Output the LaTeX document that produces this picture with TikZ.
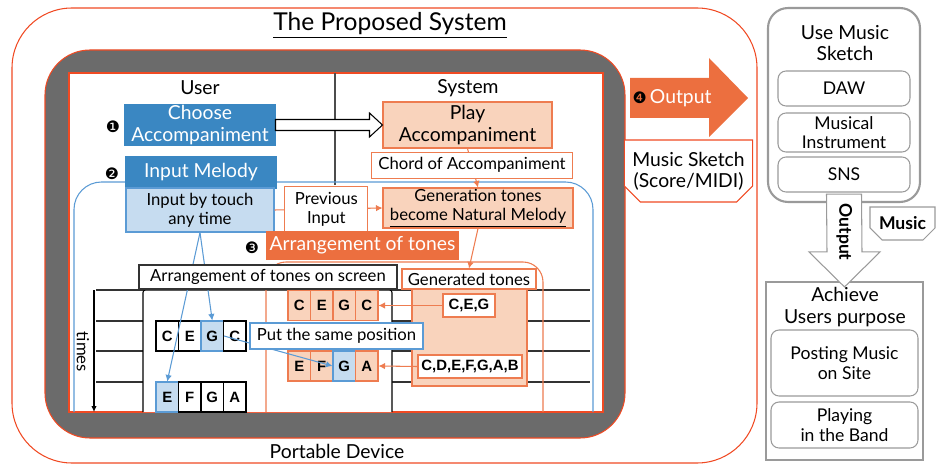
\documentclass[tikz,border=0pt]{standalone}
\usepackage{fontspec}
\setmainfont{Lato}
\newfontfamily\cellfont{Liberation Sans}
\newfontfamily\dingfont{DejaVu Sans}
\usetikzlibrary{arrows.meta,calc,shapes.misc}

\definecolor{devgray}{HTML}{6B6B6B}
\definecolor{redline}{HTML}{F04A23}
\definecolor{ublue}{HTML}{3A87C2}
\definecolor{lblue}{HTML}{C6DCF0}
\definecolor{lborder}{HTML}{5B9BD5}
\definecolor{ofill}{HTML}{F9D3BC}
\definecolor{oline}{HTML}{EE7C50}
\definecolor{oarr}{HTML}{EC6F3F}
\definecolor{gline}{HTML}{9A9A9A}

\tikzset{
    big/.style={font=\fontsize{11}{12}\selectfont},
    mid/.style={font=\fontsize{9.5}{11}\selectfont},
    ubox/.style={big, fill=ublue, draw=ublue, text=white, align=center, inner sep=0pt},
    lbox/.style={mid, fill=lblue, draw=lborder, align=center, inner sep=0pt},
    obox/.style={big, fill=ofill, draw=oline, align=center, inner sep=0pt},
    wbox/.style={mid, fill=white, draw=oline, align=center, inner sep=0pt},
    cell/.style={draw, minimum width=0.45cm, minimum height=0.6cm, inner sep=0pt,
        font=\cellfont\bfseries\fontsize{8.5}{9}\selectfont},
    hcell/.style={cell, fill=lblue, draw=lborder},
    ocell/.style={cell, fill=ofill, draw=oline},
    tagbox/.style={fill=white, draw=oline, inner sep=0pt, font=\cellfont\bfseries\fontsize{8.5}{9}\selectfont},
    gbox/.style={draw=gline, rounded corners=0.16cm, align=center, inner sep=0pt,
        font=\fontsize{10}{11}\selectfont},
    num/.style={font=\dingfont\fontsize{9}{9}\selectfont},
    oarrow/.style={draw=oline, -{Latex[length=1.3mm,width=1.3mm]}},
    barrow/.style={draw=lborder, -{Latex[length=1.3mm,width=1.3mm]}},
}

\begin{document}
\begin{tikzpicture}[x=0.02cm, y=-0.02cm, line width=0.6pt]
    \useasboundingbox (0,0) rectangle (937,466);

    % Proposed system frame
    \draw[redline, rounded corners=1.2cm] (12,8) rectangle (757,463);
    \node[font=\fontsize{14}{15}\selectfont] (title) at (390,25) {\underline{The Proposed System}};
    \node[big] (device) at (337,451) {Portable Device};

    % Portable device and screen
    \draw[fill=devgray, draw=redline, rounded corners=0.9cm] (45,50) rectangle (625,438);
    \draw[fill=white, draw=redline, line width=1pt] (69,73) rectangle (603,412);
    \draw[black!70] (335,73) -- (335,185);
    \node[big] (user) at (200,88) {User};
    \node[big] (system) at (468,88) {System};
    \draw[lborder, rounded corners=0.55cm] (74,412) -- (74,182) -- (593,182) -- (593,412);

    % Time rows
    \foreach \y in {290,321,351,382}{
        \draw[black!80] (96,\y) -- (590,\y);
    }
    \draw[fill=white, rounded corners=0.05cm] (143,412) -- (143,290) -- (392,290) -- (392,412);
    \draw[oline, rounded corners=0.4cm] (266,412) -- (266,262) -- (543,262) -- (543,412);
    \draw[fill=ofill, draw=oline] (412,289) rectangle (527,386);
    \coordinate (ttop) at (94,290);
    \coordinate (tbot) at (94,412);
    \draw[-{Latex[length=1.2mm,width=1.1mm]}] (ttop) -- (tbot);
    \node[mid, rotate=-90] (times) at (83,352) {times};

    % Tone cells
    \foreach [count=\i] \t/\s in {C/cell,E/cell,G/hcell,C/cell}{
        \node[\s] (ka\i) at (144.75+22.5*\i,336) {\t};
    }
    \foreach [count=\i] \t/\s in {E/hcell,F/cell,G/cell,A/cell}{
        \node[\s] (kb\i) at (144.75+22.5*\i,397) {\t};
    }
    \foreach [count=\i] \t/\s in {C/ocell,E/ocell,G/ocell,C/ocell}{
        \node[\s] (oa\i) at (276.75+22.5*\i,305.5) {\t};
    }
    \foreach [count=\i] \t/\s in {E/ocell,F/ocell,G/hcell,A/ocell}{
        \node[\s] (ob\i) at (276.75+22.5*\i,366) {\t};
    }

    % User side
    \node[num] (n1) at (113,127) {❶};
    \node[ubox, minimum width=3cm, minimum height=0.82cm] (choose) at (200,125) {Choose\\Accompaniment};
    \node[num] (n2) at (112,174) {❷};
    \node[ubox, minimum width=3cm, minimum height=0.62cm] (inmel) at (201,172.5) {Input Melody};
    \node[lbox, minimum width=2.96cm, minimum height=0.88cm] (intouch) at (200,210) {Input by touch\\any time};

    % System side
    \node[obox, minimum width=3.38cm, minimum height=0.92cm] (play) at (467.5,125) {Play\\Accompaniment};
    \node[obox, mid, minimum width=3.8cm, minimum height=0.8cm] (gen) at (478,208)
        {Generation tones\\\underline{become Natural Melody}};
    \draw[oarrow] (play.south) -- node[wbox, pos=.43, minimum width=4.02cm, minimum height=0.52cm] (chord)
        {Chord of Accompaniment} (gen.north);
    \draw[oarrow] (intouch.east) -- node[wbox, pos=.48, minimum width=1.66cm, minimum height=0.92cm] (prev)
        {Previous\\Input} (gen.west);

    % Choose -> Play
    \draw[fill=white] ($(choose.east)+(0,-5.5)$) -- ($(play.west)+(-13,-5.5)$) -- ($(play.west)+(-13,-12)$)
        -- (play.west) -- ($(play.west)+(-13,12)$) -- ($(play.west)+(-13,5.5)$) -- ($(choose.east)+(0,5.5)$) -- cycle;

    % Arrangement
    \draw[barrow] (intouch.south) -- (ka3.north);
    \draw[barrow] (intouch.south) -- (kb1.north);
    \draw[barrow] (ka3.east) -- (ob3.west);
    \node[num] (n3) at (252,248) {❸};
    \node[big, fill=oarr, text=white, minimum width=3.86cm, minimum height=0.58cm, inner sep=0pt] (arrange)
        at (362.5,245.5) {Arrangement of tones};
    \node[mid, fill=white, draw=black!80, minimum width=5.16cm, minimum height=0.48cm, inner sep=0pt] (onscreen)
        at (268,277) {Arrangement of tones on screen};
    \node[mid, fill=white, draw=lborder, minimum width=3.46cm, minimum height=0.52cm, inner sep=0pt] (same)
        at (336.5,336) {Put the same position};
    \node[wbox, minimum width=2.68cm, minimum height=0.4cm] (gentones) at (469,279) {Generated tones};
    \draw[oarrow] (gen.south) -- (gentones.north);
    \node[tagbox, minimum width=1.04cm, minimum height=0.46cm] (ceg) at (469,305.5) {C,E,G};
    \node[tagbox, minimum width=2.08cm, minimum height=0.46cm] (all) at (470,366.5) {C,D,E,F,G,A,B};
    \draw[oarrow] (ceg.west) -- (oa4.east);
    \draw[oarrow] (all.west) -- (ob4.east);

    % Output
    \draw[fill=oarr, draw=none] (630,78) -- (709,78) -- (709,58) -- (748,98) -- (709,137) -- (709,118) -- (630,118) -- cycle;
    \node[big, text=white] (out) at (672,98) {{\dingfont\fontsize{9}{9}\selectfont\color{black}❹}\,Output};
    \node[big, draw=redline, fill=white, chamfered rectangle, chamfered rectangle corners={south west,south east},
        chamfered rectangle xsep=0.16cm, chamfered rectangle ysep=0.16cm, minimum width=2.46cm,
        minimum height=1.24cm, inner sep=0pt, align=center] (sketch) at (688.5,171) {Music Sketch\\(Score/MIDI)};

    % Use of music sketch
    \node[draw=gline, line width=1.2pt, rounded corners=0.4cm, minimum width=3.04cm, minimum height=3.88cm] (use)
        at (844,105) {};
    \node[big, align=center] (usetitle) at (845,43) {Use Music\\Sketch};
    \node[gbox, minimum width=2.64cm, minimum height=0.7cm] (daw) at (844,88.5) {DAW};
    \node[gbox, minimum width=2.64cm, minimum height=0.78cm] (instr) at (844,132.5) {Musical\\Instrument};
    \node[gbox, minimum width=2.64cm, minimum height=0.7cm] (sns) at (844,174.5) {SNS};

    \node[draw=gline, line width=1.2pt, minimum width=3.14cm, minimum height=3.56cm] (achieve) at (844.5,371) {};
    \node[big, align=center] (achtitle) at (845,307) {Achieve\\Users purpose};
    \node[gbox, minimum width=2.94cm, minimum height=1.32cm] (posting) at (844.5,363) {Posting Music\\on Site};
    \node[gbox, minimum width=2.94cm, minimum height=0.92cm] (playing) at (844.5,425) {Playing\\in the Band};

    \draw[draw=gline, fill=white] ($(use.south)+(-17.5,-9)$) -- ($(use.south)+(17.5,-9)$)
        -- ($(achieve.north)+(17.5,-29)$) -- ($(achieve.north)+(35.5,-29)$) -- ($(achieve.north)+(0,6)$)
        -- ($(achieve.north)+(-35.5,-29)$) -- ($(achieve.north)+(-17.5,-29)$) -- cycle;
    \node[rotate=-90, font=\bfseries\fontsize{10}{11}\selectfont] (outlbl) at ($(use.south)!.5!(achieve.north)+(0,-10)$) {Output};
    \node[draw=gline, fill=white, chamfered rectangle, chamfered rectangle corners={south west,south east},
        chamfered rectangle xsep=0.12cm, chamfered rectangle ysep=0.12cm, minimum width=1.3cm, minimum height=0.66cm,
        inner sep=0pt, font=\bfseries\fontsize{10}{11}\selectfont] (music) at (902.5,223.5) {Music};
\end{tikzpicture}
\end{document}
